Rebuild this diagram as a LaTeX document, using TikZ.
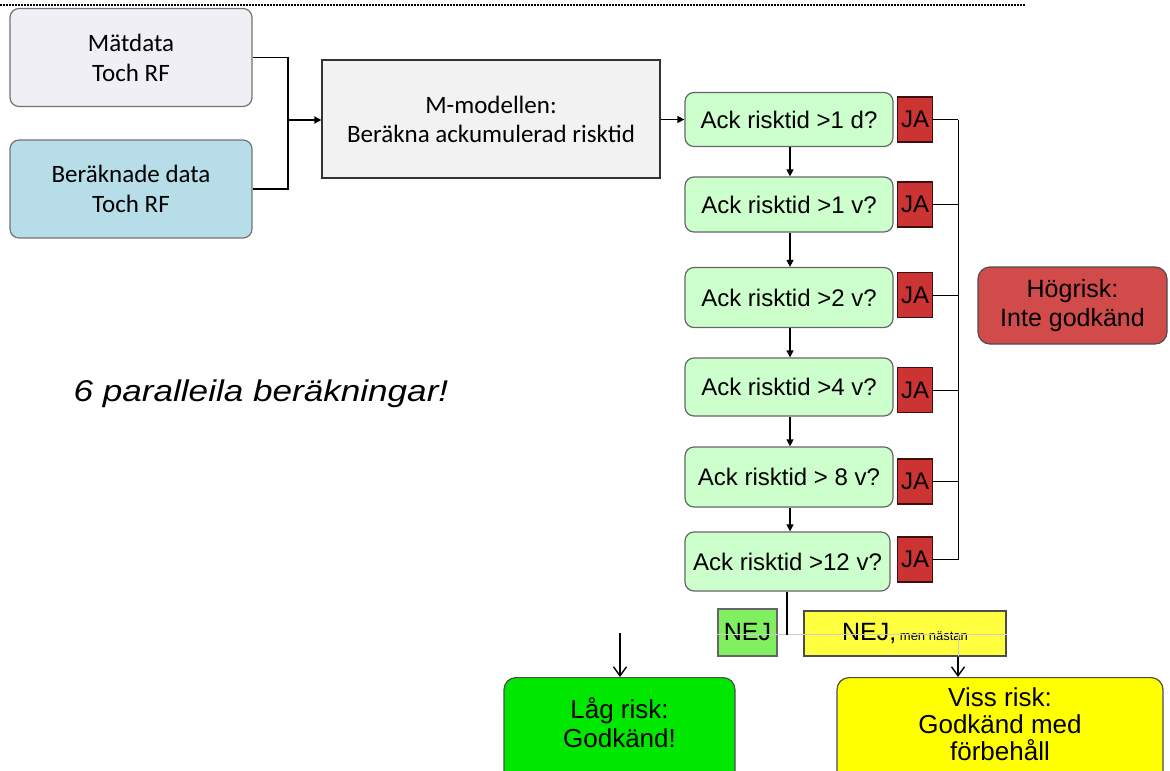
\documentclass[tikz,border=0pt]{standalone}
\usepackage{fontspec}
\setmainfont{Liberation Sans}
\newfontfamily\calib{Carlito}
\usetikzlibrary{arrows.meta}
\definecolor{clav}{RGB}{241,239,246}
\definecolor{cbluebox}{RGB}{183,222,232}
\definecolor{cgraybox}{RGB}{242,242,242}
\definecolor{cmint}{RGB}{204,255,204}
\definecolor{cja}{RGB}{204,51,51}
\definecolor{chog}{RGB}{210,75,75}
\definecolor{cnej}{RGB}{128,240,96}
\definecolor{cnejy}{RGB}{255,255,64}
\definecolor{clag}{RGB}{0,232,0}
\definecolor{cviss}{RGB}{255,255,0}
\tikzset{flow/.style={x=1pt,y=-1pt,line width=1.2pt},
  inbox/.style={draw=black!55,rounded corners=9pt,minimum width=242pt,minimum height=98pt,
    align=center,font=\calib\fontsize{25}{30}\selectfont},
  qbox/.style={draw=black!60,fill=cmint,rounded corners=9pt,minimum width=208pt,
    align=center,font=\fontsize{24}{28}\selectfont},
  jabox/.style={draw=black!70!cja,fill=cja,minimum width=35pt,minimum height=45pt,
    inner sep=0pt,font=\fontsize{24}{28}\selectfont},
  resbox/.style={draw=black!70,rounded corners=12pt,align=center,anchor=north,
    font=\fontsize{26}{29}\selectfont},
  arr/.style={-{Triangle[length=7pt,width=7pt]}},
  varr/.style={-{Straight Barb[length=9pt,width=13pt]},line width=1.4pt}}

\begin{document}
\begin{tikzpicture}[flow]
  \clip (0,0) rectangle (1170,771);
  \useasboundingbox (0,0) rectangle (1170,771);
  \draw[line width=2pt,dash pattern=on 2pt off 1pt] (0,5) -- (1025,5);
  % inputs
  \node[inbox,fill=clav]      (matdata) at (131,57.5) {M\"atdata\\Toch RF};
  \node[inbox,fill=cbluebox]  (berakn)  at (131,189)  {Ber\"aknade data\\Toch RF};
  \node[draw=black!80,fill=cgraybox,minimum width=338pt,minimum height=118pt,align=center,
    font=\calib\fontsize{25}{29}\selectfont] (mmod) at (491,119)
    {M-modellen:\\Ber\"akna ackumulerad risktid};
  \coordinate (join) at (288,120);
  \draw (matdata.east) -- (288,57.5) -- (288,189) -- (berakn.east);
  \draw[arr,line width=1.6pt] (join) -- (mmod.west |- join);
  % questions
  \node[qbox,minimum height=54pt] (q1) at (789,119.5) {Ack risktid >1 d?};
  \node[qbox,minimum height=55pt] (q2) at (789,204.5) {Ack risktid >1 v?};
  \node[qbox,minimum height=60pt] (q3) at (789,297.5) {Ack risktid >2 v?};
  \node[qbox,minimum height=58pt] (q4) at (789,387)   {Ack risktid >4 v?};
  \node[qbox,minimum height=60pt] (q5) at (789,477)   {Ack risktid > 8 v?};
  \node[qbox,minimum height=59pt,minimum width=205pt] (q6) at (787.5,561.5) {Ack risktid >12 v?};
  \draw[arr] (mmod.east |- q1) -- (q1.west);
  \foreach \a/\b in {q1/q2,q2/q3,q3/q4,q4/q5,q5/q6}
    \draw[arr] (\a.south -| 790,0) -- (\b.north -| 790,0);
  % yes boxes and bus
  \foreach \q/\y in {1/119.5,2/204.5,3/295,4/390,5/481.5,6/559.5} {
    \node[jabox] (ja\q) at (915,\y) {JA};
    \draw[line width=1pt] (ja\q.east) -- (958,\y);
  }
  \draw[line width=1pt] (958,119.5) -- (958,559.5);
  \node[resbox,fill=chog,minimum width=189pt,minimum height=77pt,anchor=center,
    font=\fontsize{25}{29}\selectfont] (hog) at (1072.5,305.5) {H\"ogrisk:\\Inte godk\"and};
  % no branch
  \node[draw=black!60,fill=cnej,minimum width=59pt,minimum height=47pt,inner sep=0pt,
    font=\fontsize{25}{28}\selectfont] (nej) at (747.5,632.5) {NEJ};
  \node[draw=black!70,fill=cnejy,minimum width=202pt,minimum height=45pt,inner sep=0pt] (nejy)
    at (905,633.5) {\fontsize{25}{28}\selectfont NEJ,\fontsize{13}{15}\selectfont{} men n\"astan};
  \draw[black!20,line width=0.8pt] (nej.west |- 0,634) -- (nejy.east |- 0,634);
  \draw[black!20,line width=0.8pt] (958,634) -- (958,656);
  \draw[line width=2pt] (q6.south -| 787,0) -- (787,635);
  \node[resbox,fill=clag,minimum width=231pt,inner ysep=20pt,text depth=40pt] (lag) at (619.5,677)
    {L\aa g risk:\\Godk\"and!};
  \node[resbox,fill=cviss,minimum width=326pt,inner ysep=10pt,text depth=30pt,
    font=\fontsize{26}{27}\selectfont] (viss) at (1000,677)
    {Viss risk:\\Godk\"and med\\f\"orbeh\aa ll};
  \coordinate (lagtop) at (620,633);
  \draw[varr] (lagtop) -- (lag.north -| lagtop);
  \draw[varr] (nejy.south -| 958,0) -- (viss.north -| 958,0);
  % note
  \node[font=\itshape\fontsize{30}{34}\selectfont] (note) at (261,394)
    {\scalebox{1.17}[1]{6 paralleila ber\"akningar!}};
\end{tikzpicture}
\end{document}
